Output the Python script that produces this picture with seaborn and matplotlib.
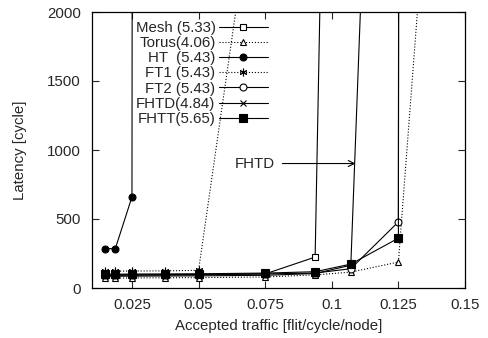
import matplotlib
matplotlib.use("Agg")
import matplotlib.pyplot as plt
import seaborn as sns
import pandas as pd

# Accepted traffic (flit/cycle/node) and average latency (cycles) per topology.
# The last point of each curve is the saturation point, above the visible range.
mesh_x = [0.015, 0.01875, 0.025, 0.0375, 0.05, 0.075, 0.09375, 0.0961]
mesh_y = [92, 92, 93, 94, 96, 102, 224, 2600]

torus_x = [0.015, 0.01875, 0.025, 0.0375, 0.05, 0.075, 0.09375, 0.10714, 0.125, 0.1345]
torus_y = [72, 72, 73, 74, 75, 80, 95, 115, 188, 2600]

ht_x = [0.015, 0.01875, 0.025, 0.0251]
ht_y = [285, 285, 660, 2600]

ft1_x = [0.015, 0.01875, 0.025, 0.0375, 0.05, 0.0684]
ft1_y = [122, 122, 123, 124, 128, 2600]

ft2_x = [0.015, 0.01875, 0.025, 0.0375, 0.05, 0.075, 0.09375, 0.10714, 0.125, 0.1251]
ft2_y = [95, 95, 96, 97, 98, 102, 108, 140, 479, 2600]

fhtd_x = [0.015, 0.01875, 0.025, 0.0375, 0.05, 0.075, 0.09375, 0.10714, 0.1119]
fhtd_y = [85, 85, 86, 87, 88, 92, 105, 165, 2600]

fhtt_x = [0.015, 0.01875, 0.025, 0.0375, 0.05, 0.075, 0.09375, 0.10714, 0.125, 0.1251]
fhtt_y = [100, 100, 101, 102, 103, 108, 118, 173, 361, 2600]

labels = ["Mesh (5.33)", "Torus(4.06)", "HT  (5.43)", "FT1 (5.43)",
          "FT2 (5.43)", "FHTD(4.84)", "FHTT(5.65)"]

xticks = [0.025, 0.05, 0.075, 0.1, 0.125, 0.15]
xtick_labels = ["0.025", "0.05", "0.075", "0.1", "0.125", "0.15"]
yticks = [0, 500, 1000, 1500, 2000]

series = [
    (mesh_x, mesh_y, dict(marker="s", mfc="white", ms=4.5, ls="-")),
    (torus_x, torus_y, dict(marker="^", mfc="white", ms=4.5, ls=":")),
    (ht_x, ht_y, dict(marker="o", mfc="black", ms=5, ls="-")),
    (ft1_x, ft1_y, dict(marker=(6, 2, 0), mfc="black", ms=5.5, ls=":")),
    (ft2_x, ft2_y, dict(marker="o", mfc="white", ms=5, ls="-")),
    (fhtd_x, fhtd_y, dict(marker="x", mfc="black", ms=4.5, ls="-")),
    (fhtt_x, fhtt_y, dict(marker="s", mfc="black", ms=5.5, ls="-")),
]

sns.set_style("ticks")
plt.rcParams["font.family"] = ["Liberation Sans", "DejaVu Sans"]
plt.rcParams["font.size"] = 10.8

fig, ax = plt.subplots(figsize=(4.89, 3.38), dpi=100)
fig.subplots_adjust(left=92 / 489, right=465 / 489, bottom=50 / 338, top=326 / 338)

for (xs, ys, st), lab in zip(series, labels):
    df = pd.DataFrame({"traffic": xs, "latency": ys})
    sns.lineplot(data=df, x="traffic", y="latency", ax=ax, sort=False,
                 estimator=None, color="black", lw=0.8, label=lab,
                 marker=st["marker"], markersize=st["ms"],
                 markerfacecolor=st["mfc"], markeredgecolor="black",
                 markeredgewidth=0.8, linestyle=st["ls"])

ax.set_xlim(0.01, 0.15)
ax.set_ylim(0, 2000)
ax.set_xticks(xticks)
ax.set_xticklabels(xtick_labels)
ax.set_yticks(yticks)
ax.tick_params(direction="in", top=True, right=True, length=5, width=0.8,
               labelsize=10.8)
ax.tick_params(axis="x", pad=7)
ax.tick_params(axis="y", pad=8)
for sp in ax.spines.values():
    sp.set_linewidth(0.9)
    sp.set_color("black")

ax.set_xlabel("Accepted traffic [flit/cycle/node]", fontsize=10.8)
ax.set_ylabel("Latency [cycle]", fontsize=10.8)
ax.xaxis.set_label_coords(0.5, -0.112)
ax.yaxis.set_label_coords(-0.173, 0.5)

ax.annotate("FHTD", xy=(0.1089, 902), xytext=(0.0787, 902),
            ha="right", va="center", fontsize=10.8,
            arrowprops=dict(arrowstyle="->", lw=0.8, color="black",
                            shrinkA=3, shrinkB=0))

leg = ax.legend(loc="upper right", bbox_to_anchor=(0.472, 0.968),
                markerfirst=False, frameon=False, handlelength=3.3,
                handletextpad=0.2, labelspacing=0.08, borderpad=0,
                borderaxespad=0, fontsize=10.8)

fig.savefig("out.png", dpi=100)
